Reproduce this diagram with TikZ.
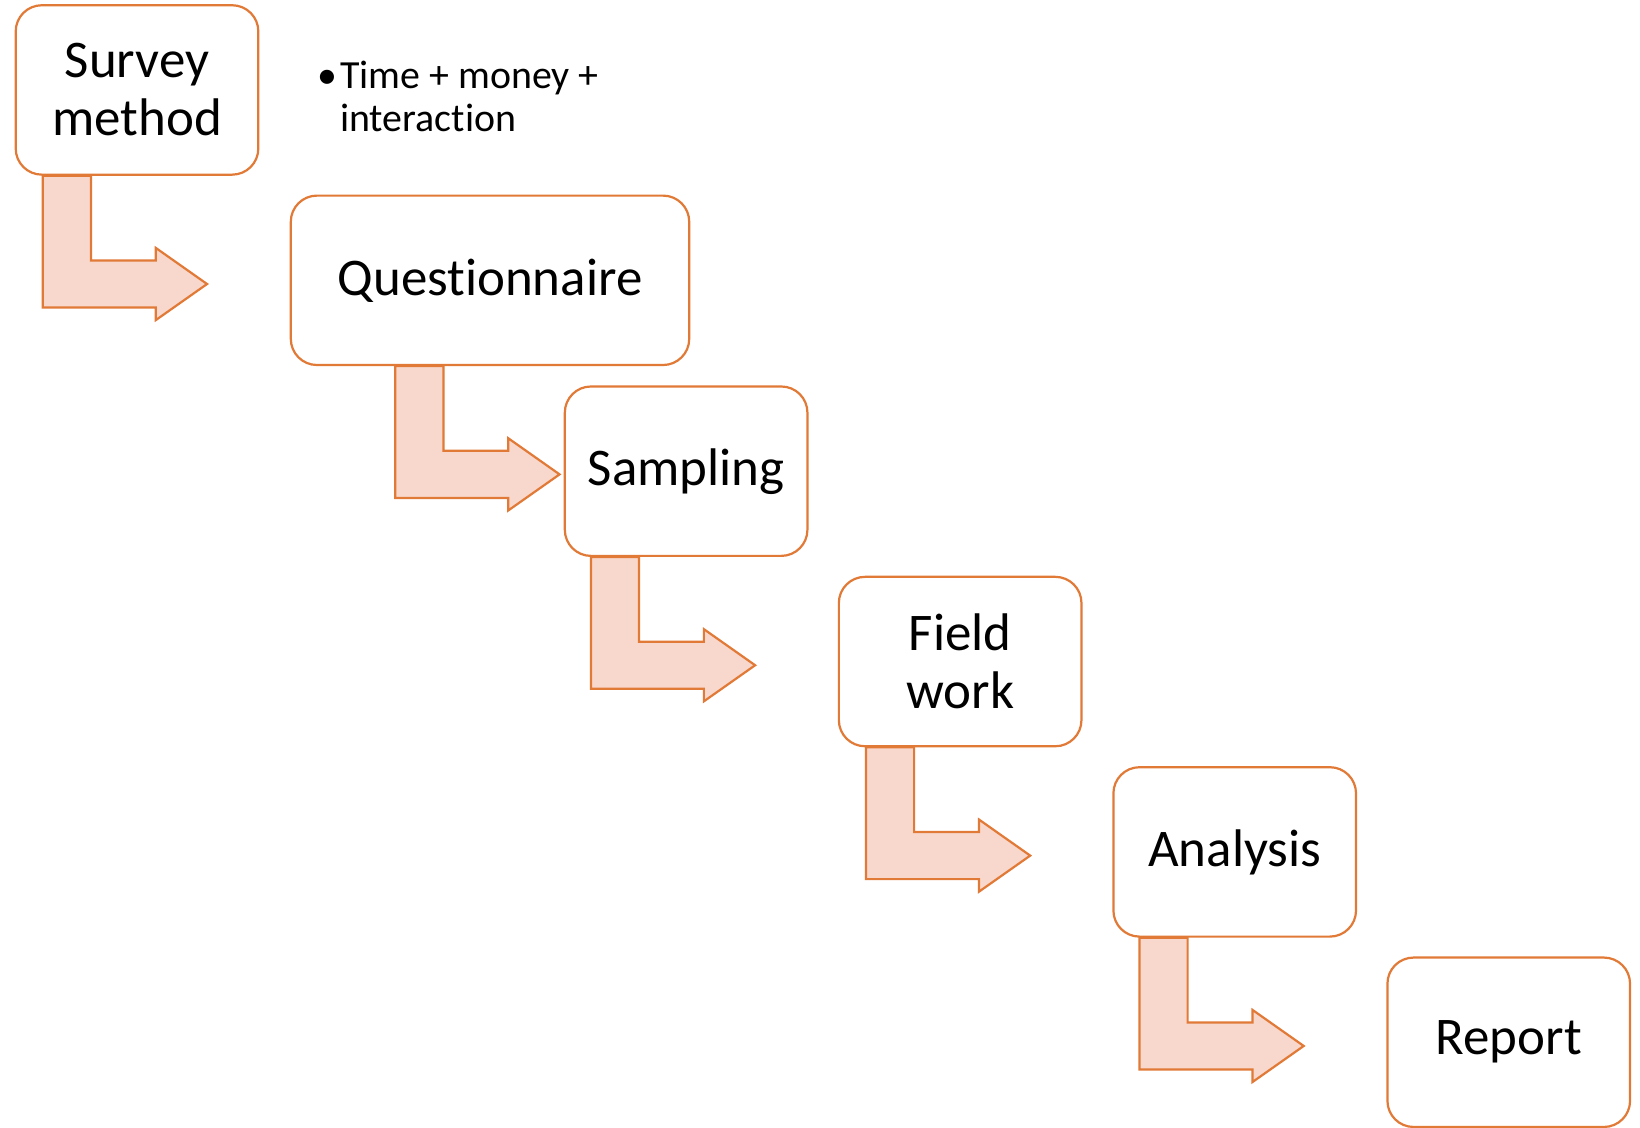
\documentclass[tikz,border=0pt]{standalone}
\usepackage{fontspec}
\setmainfont{Carlito}[Ligatures=NoCommon]
\usetikzlibrary{positioning, calc}
\definecolor{stepline}{RGB}{226,122,55}
\definecolor{stepfill}{RGB}{248,215,204}

\begin{document}
\begin{tikzpicture}[x=0.02cm, y=-0.02cm,
    stepbox/.style={draw=stepline, line width=1.2pt, rounded corners=0.5cm, fill=white,
        minimum width=4.64cm, minimum height=3.24cm, align=center,
        font=\fontsize{28.8}{31.5}\selectfont},
    bentline/.style={draw=stepline, fill=stepfill, line width=1.2pt},
    pics/bent/.style={code={
        \path[bentline] (0,0) -- (46,0) -- (46,81) -- (108,81) -- (108,69)
            -- (157,103.5) -- (108,138) -- (108,126) -- (0,126) -- cycle;}}]
        \useasboundingbox (0,0) rectangle (1568,1078);
        % nodes
        \node[stepbox] (survey)   at (131, 86)      {Survey\\method};
        \node[stepbox, minimum width=7.62cm] (quest) at (468.5, 268) {Questionnaire};
        \node[stepbox] (sampling) at (656, 450.5)   {Sampling};
        \node[stepbox] (field)    at (918, 632.5)   {Field\\work};
        \node[stepbox] (analysis) at (1180.5, 814.5) {Analysis};
        \node[stepbox] (report)   at (1442.5, 996.5) {Report};
        \node[anchor=base west, align=left, inner sep=0pt,
            font=\fontsize{21.7}{23.6}\selectfont] (note) at (303, 126)
            {\makebox[12.4pt][l]{\textbullet}Time + money +\\\hspace*{12.4pt}interaction};
        % arrows
        \pic at ($(survey.south west)+(27,0)$)   {bent};
        \pic at ($(quest.south west)+(101,0)$)   {bent};
        \pic at ($(sampling.south west)+(26,0)$) {bent};
        \pic at ($(field.south west)+(27,0)$)    {bent};
        \pic at ($(analysis.south west)+(26,0)$) {bent};
\end{tikzpicture}
\end{document}
